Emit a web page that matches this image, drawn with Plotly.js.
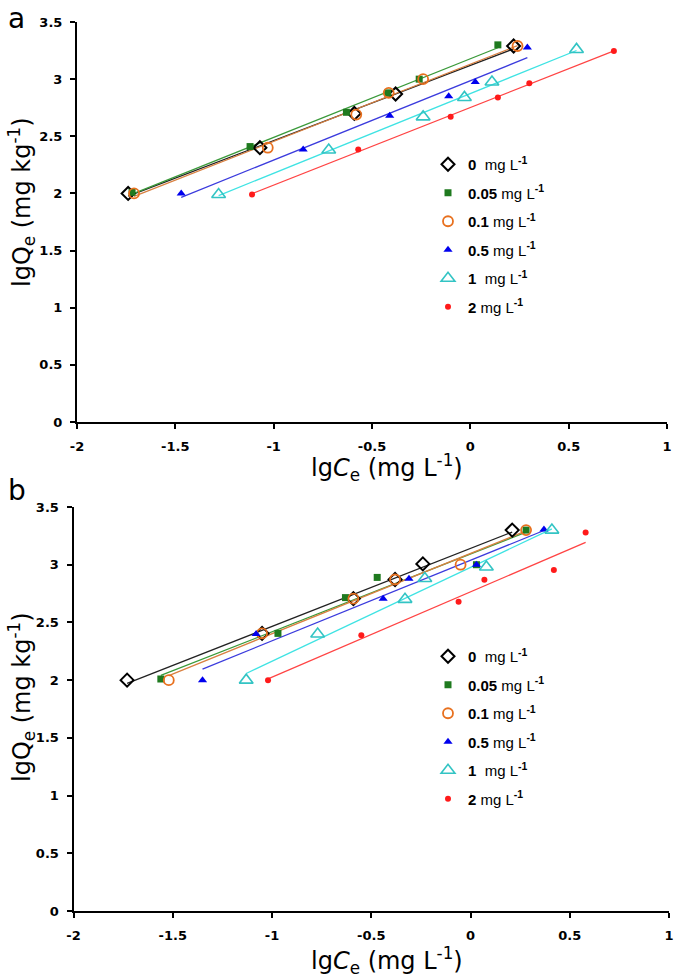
<!DOCTYPE html>
<html>
<head>
<meta charset="utf-8">
<script src="https://cdn.plot.ly/plotly-3.0.1.min.js"></script>
<style>html,body{margin:0;padding:0;background:#fff;}#chart{width:675px;height:978px;}</style>
</head>
<body>
<div id="chart"></div>
<script>
// Series labels (concentration)
const seriesNames = ["0", "0.05", "0.1", "0.5", "1", "2"];

// Panel a: lgCe (x) and lgQe (y)
const a_x0    = [-1.74, -1.07, -0.59, -0.38, 0.22];
const a_y0    = [2.00, 2.40, 2.70, 2.87, 3.29];
const a_x005  = [-1.72, -1.12, -0.63, -0.42, -0.26, 0.14];
const a_y005  = [2.01, 2.41, 2.71, 2.88, 3.00, 3.30];
const a_x01   = [-1.71, -1.03, -0.58, -0.415, -0.24, 0.24];
const a_y01   = [2.00, 2.40, 2.69, 2.88, 3.00, 3.29];
const a_x05   = [-1.47, -0.85, -0.41, -0.11, 0.025, 0.29];
const a_y05   = [2.00, 2.385, 2.68, 2.85, 2.975, 3.276];
const a_x1    = [-1.28, -0.72, -0.24, -0.03, 0.11, 0.54];
const a_y1    = [1.99, 2.38, 2.67, 2.84, 2.975, 3.26];
const a_x2    = [-1.11, -0.57, -0.10, 0.14, 0.30, 0.73];
const a_y2    = [1.99, 2.385, 2.67, 2.84, 2.965, 3.246];

// Panel b
const b_x0    = [-1.73, -1.05, -0.59, -0.38, -0.24, 0.21];
const b_y0    = [2.00, 2.405, 2.706, 2.872, 3.007, 3.30];
const b_x005  = [-1.56, -0.97, -0.63, -0.47, 0.03, 0.28];
const b_y005  = [2.01, 2.405, 2.715, 2.89, 3.00, 3.30];
const b_x01   = [-1.52, -1.05, -0.59, -0.38, -0.05, 0.28];
const b_y01   = [2.00, 2.405, 2.706, 2.872, 3.00, 3.30];
const b_x05   = [-1.35, -1.08, -0.44, -0.31, 0.03, 0.37];
const b_y05   = [2.00, 2.40, 2.706, 2.878, 3.00, 3.305];
const b_x1    = [-1.13, -0.77, -0.33, -0.23, 0.08, 0.41];
const b_y1    = [2.00, 2.40, 2.70, 2.88, 2.98, 3.30];
const b_x2    = [-1.02, -0.55, -0.06, 0.07, 0.42, 0.58];
const b_y2    = [2.00, 2.39, 2.68, 2.87, 2.955, 3.28];

const xTicks = [-2, -1.5, -1, -0.5, 0, 0.5, 1];
const xTickText = ["-2", "-1.5", "-1", "-0.5", "0", "0.5", "1"];
const yTicks = [0, 0.5, 1, 1.5, 2, 2.5, 3, 3.5];
const yTickText = ["0", "0.5", "1", "1.5", "2", "2.5", "3", "3.5"];

const styles = [
  {marker:{symbol:"diamond-open", size:10, color:"#000000", line:{width:2, color:"#000000"}}, line:"#222222"},
  {marker:{symbol:"square", size:7, color:"#1f7a1f"}, line:"#3a9a3a"},
  {marker:{symbol:"circle-open", size:10, color:"#e8701e", line:{width:1.8, color:"#e8701e"}}, line:"#d98040"},
  {marker:{symbol:"triangle-up", size:8, color:"#0000ee"}, line:"#3b3bdd"},
  {marker:{symbol:"triangle-up-open", size:12, color:"#33c4c4", line:{width:1.6, color:"#33c4c4"}}, line:"#3fe3e3"},
  {marker:{symbol:"circle", size:6, color:"#ff1a1a"}, line:"#ff4444"}
];

const gaps = {"0":"&nbsp;&nbsp;", "1":"&nbsp;&nbsp;"};
function legendLabel(n){ return "<b>" + n + "</b>" + (gaps[n] ? gaps[n] : "&nbsp;") + "mg L<sup><b>-1</b></sup>"; }

function fit(xs, ys){
  const n = xs.length;
  const mx = xs.reduce((s,v)=>s+v,0)/n, my = ys.reduce((s,v)=>s+v,0)/n;
  let sxy=0, sxx=0;
  for(let i=0;i<n;i++){ sxy += (xs[i]-mx)*(ys[i]-my); sxx += (xs[i]-mx)*(xs[i]-mx); }
  const k = sxy/sxx, c = my - k*mx;
  const x0 = Math.min(...xs), x1 = Math.max(...xs);
  return {x:[x0,x1], y:[k*x0+c, k*x1+c]};
}

const panelA = [[a_x0,a_y0],[a_x005,a_y005],[a_x01,a_y01],[a_x05,a_y05],[a_x1,a_y1],[a_x2,a_y2]];
const panelB = [[b_x0,b_y0],[b_x005,b_y005],[b_x01,b_y01],[b_x05,b_y05],[b_x1,b_y1],[b_x2,b_y2]];

const traces = [];
function addPanel(data, xa, ya, legendId){
  data.forEach((d,i)=>{
    const f = fit(d[0], d[1]);
    traces.push({type:"scatter", mode:"lines", x:f.x, y:f.y, xaxis:xa, yaxis:ya,
      line:{color:styles[i].line, width:1.3}, showlegend:false, hoverinfo:"skip"});
  });
  data.forEach((d,i)=>{
    traces.push({type:"scatter", mode:"markers", x:d[0], y:d[1], xaxis:xa, yaxis:ya,
      marker:styles[i].marker, name:legendLabel(seriesNames[i]), legend:legendId,
      legendgroup:legendId+i, showlegend:true});
  });
}
addPanel(panelA, "x", "y", "legend");
addPanel(panelB, "x2", "y2", "legend2");

const tickFont = {family:"DejaVu Sans, sans-serif", size:13, color:"#000", weight:"bold"};
const xTitleFont = {family:"DejaVu Sans, sans-serif", size:24, color:"#000"};
const yTitleFont = {family:"DejaVu Sans, sans-serif", size:24, color:"#000"};

function xAxis(domain, anchor){
  return {domain:domain, anchor:anchor, range:[-2,1], tickvals:xTicks, ticktext:xTickText,
    showgrid:false, zeroline:false, showline:true, linecolor:"#000", linewidth:2,
    ticks:"outside", ticklen:5, tickwidth:2, tickcolor:"#000", tickfont:tickFont, ticklabelstandoff:6};
}
function yAxis(domain, anchor){
  return {domain:domain, anchor:anchor, range:[0,3.5], tickvals:yTicks, ticktext:yTickText,
    showgrid:false, zeroline:false, showline:true, linecolor:"#000", linewidth:2,
    ticks:"outside", ticklen:5, tickwidth:2, tickcolor:"#000", tickfont:tickFont, ticklabelstandoff:5};
}

const legendCommon = {xanchor:"left", yanchor:"top", bgcolor:"rgba(0,0,0,0)", borderwidth:0,
  font:{family:"Liberation Sans, Arial, sans-serif", size:15, color:"#000"}, tracegroupgap:6, itemwidth:30};

const xTitle = "lg<i>C</i><sub>e</sub> (mg L<sup>-1</sup>)";
const yTitle = "lgQ<sub>e</sub> (mg kg<sup>-1</sup>)";

const layout = {
  width:675, height:978,
  margin:{l:0, r:0, t:0, b:0},
  paper_bgcolor:"#fff", plot_bgcolor:"#fff",
  xaxis: xAxis([77/675, 667/675], "y"),
  yaxis: yAxis([1-422/978, 1-22/978], "x"),
  xaxis2: xAxis([73.5/675, 669/675], "y2"),
  yaxis2: yAxis([1-911/978, 1-507/978], "x2"),
  legend: Object.assign({x:428/675, y:1-148/978}, legendCommon),
  legend2: Object.assign({x:428/675, y:1-640/978}, legendCommon),
  annotations:[
    {text:"a", xref:"paper", yref:"paper", x:6/675, y:1-0/978, xanchor:"left", yanchor:"top", showarrow:false,
     font:{family:"DejaVu Sans, sans-serif", size:28, color:"#000"}},
    {text:"b", xref:"paper", yref:"paper", x:6/675, y:1-472/978, xanchor:"left", yanchor:"top", showarrow:false,
     font:{family:"DejaVu Sans, sans-serif", size:28, color:"#000"}},
    {text:xTitle, xref:"paper", yref:"paper", x:387/675, y:1-467/978, xanchor:"center", yanchor:"middle", showarrow:false, font:xTitleFont},
    {text:xTitle, xref:"paper", yref:"paper", x:387/675, y:1-960/978, xanchor:"center", yanchor:"middle", showarrow:false, font:xTitleFont},
    {text:yTitle, xref:"paper", yref:"paper", x:21/675, y:1-202/978, xanchor:"center", yanchor:"middle", textangle:-90, showarrow:false, font:yTitleFont},
    {text:yTitle, xref:"paper", yref:"paper", x:21/675, y:1-697/978, xanchor:"center", yanchor:"middle", textangle:-90, showarrow:false, font:yTitleFont}
  ],
  showlegend:true
};

Plotly.newPlot("chart", traces, layout, {staticPlot:true, displayModeBar:false});
</script>
</body>
</html>
